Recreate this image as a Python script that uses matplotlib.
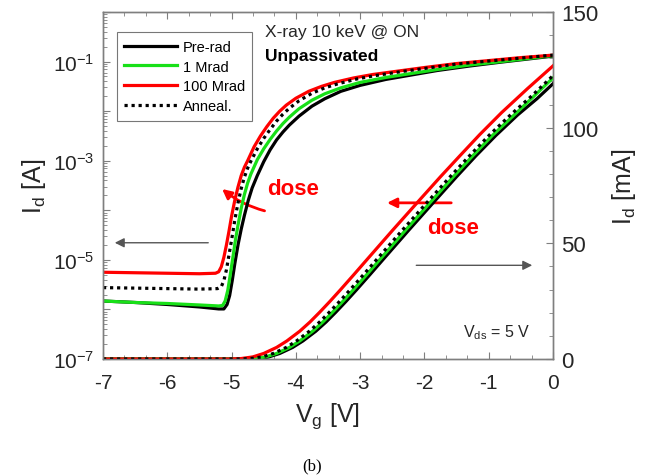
import numpy as np
import matplotlib
matplotlib.use('Agg')
import matplotlib.pyplot as plt
from matplotlib.ticker import MultipleLocator, LogLocator, FixedLocator, NullFormatter
from matplotlib.patches import FancyArrowPatch

plt.rcParams['font.family'] = ['Liberation Sans', 'DejaVu Sans']
plt.rcParams['mathtext.default'] = 'regular'
plt.rcParams['axes.unicode_minus'] = False

# log-scale transfer curves, left axis (log10 of Id in A)
vg_pre_log = [-7, -6.5, -6, -5.5, -5.2, -5.12, -5.07, -5.03, -4.99, -4.95, -4.9, -4.85, -4.8, -4.74, -4.68,
              -4.6, -4.5, -4.4, -4.3, -4.2, -4.1, -3.95, -3.75, -3.55, -3.3, -3.0, -2.6, -2.2, -1.8, -1.3,
              -0.8, -0.4, 0]
id_pre_log = [-5.83, -5.86, -5.9, -5.95, -5.99, -5.99, -5.9, -5.72, -5.42, -5.08, -4.7, -4.38, -4.1, -3.8, -3.55,
              -3.3, -3.02, -2.78, -2.58, -2.42, -2.28, -2.1, -1.9, -1.75, -1.6, -1.48, -1.36, -1.27, -1.18, -1.09,
              -1.01, -0.95, -0.89]

vg_1m_log = [-7, -6.5, -6, -5.5, -5.2, -5.14, -5.1, -5.06, -5.02, -4.98, -4.94, -4.9, -4.85, -4.8, -4.75,
             -4.7, -4.6, -4.5, -4.4, -4.3, -4.2, -4.1, -3.95, -3.75, -3.55, -3.3, -3.0, -2.6, -2.2, -1.8,
             -1.3, -0.8, -0.4, 0]
id_1m_log = [-5.83, -5.86, -5.88, -5.91, -5.93, -5.92, -5.83, -5.62, -5.3, -4.95, -4.6, -4.3, -3.96, -3.68, -3.45,
             -3.27, -2.98, -2.76, -2.57, -2.4, -2.25, -2.12, -1.95, -1.78, -1.65, -1.53, -1.42, -1.32, -1.24, -1.16,
             -1.07, -1.0, -0.94, -0.88]

vg_100m_log = [-7, -6, -5.5, -5.25, -5.2, -5.16, -5.12, -5.08, -5.04, -5.0, -4.95, -4.9, -4.85, -4.8, -4.75,
               -4.65, -4.55, -4.45, -4.35, -4.25, -4.15, -4.0, -3.8, -3.6, -3.4, -3.1, -2.8, -2.4, -2.0, -1.5,
               -1.0, -0.5, 0]
id_100m_log = [-5.25, -5.27, -5.28, -5.27, -5.24, -5.14, -4.95, -4.7, -4.42, -4.12, -3.8, -3.53, -3.3, -3.13, -3.0,
               -2.72, -2.5, -2.31, -2.14, -2.0, -1.88, -1.74, -1.6, -1.5, -1.42, -1.33, -1.26, -1.19, -1.12, -1.04,
               -0.98, -0.92, -0.87]

vg_ann_log = [-7, -6, -5.5, -5.22, -5.16, -5.12, -5.08, -5.04, -5.0, -4.95, -4.9, -4.85, -4.8, -4.75, -4.7,
              -4.6, -4.5, -4.4, -4.3, -4.2, -4.1, -3.95, -3.75, -3.55, -3.35, -3.05, -2.75, -2.35, -1.95, -1.5,
              -1.0, -0.5, 0]
id_ann_log = [-5.56, -5.58, -5.59, -5.58, -5.54, -5.42, -5.2, -4.9, -4.6, -4.2, -3.85, -3.56, -3.33, -3.15, -3.01,
              -2.76, -2.55, -2.37, -2.2, -2.06, -1.94, -1.79, -1.64, -1.53, -1.45, -1.35, -1.28, -1.2, -1.13, -1.05,
              -0.99, -0.93, -0.87]

# linear transfer curves, right axis (mA)
vg_pre_lin = [-7, -4.75, -4.6, -4.42, -4.25, -4.05, -3.89, -3.69, -3.53, -3.38, -3.22, -3.06, -2.85, -2.64,
              -2.25, -1.82, -1.5, -1.2, -0.89, -0.55, -0.25, 0]
id_pre_lin = [0, 0, 0.2, 0.9, 2.4, 5.0, 7.8, 12.0, 16.0, 20.2, 24.9, 29.8, 36.4, 43.1,
              55.5, 68.9, 78.8, 87.8, 96.6, 105.5, 112.5, 119]

vg_1m_lin = [-7, -4.8, -4.65, -4.47, -4.3, -4.1, -3.94, -3.74, -3.58, -3.43, -3.27, -3.11, -2.9, -2.69,
             -2.3, -1.87, -1.55, -1.25, -0.94, -0.6, -0.3, 0]
id_1m_lin = [0, 0, 0.2, 0.9, 2.4, 5.0, 7.8, 12.0, 16.0, 20.2, 24.9, 29.8, 36.4, 43.1,
             55.5, 68.9, 78.8, 87.8, 96.7, 105.6, 113.5, 121.5]

vg_100m_lin = [-7, -5.0, -4.85, -4.67, -4.5, -4.3, -4.14, -3.94, -3.78, -3.63, -3.47, -3.31, -3.1, -2.89,
               -2.5, -2.07, -1.75, -1.45, -1.14, -0.8, -0.4, 0]
id_100m_lin = [0, 0, 0.2, 0.9, 2.4, 5.0, 7.8, 12.0, 16.0, 20.2, 24.9, 29.8, 36.4, 43.1,
               55.5, 68.9, 78.8, 87.8, 97, 106.5, 116.8, 126.7]

vg_ann_lin = [-7, -4.85, -4.7, -4.52, -4.35, -4.15, -3.99, -3.79, -3.63, -3.48, -3.32, -3.16, -2.95, -2.74,
              -2.35, -1.92, -1.6, -1.3, -0.99, -0.65, -0.32, 0]
id_ann_lin = [0, 0, 0.2, 0.9, 2.4, 5.0, 7.8, 12.0, 16.0, 20.2, 24.9, 29.8, 36.4, 43.1,
              55.5, 68.9, 78.8, 87.8, 96.8, 105.8, 114, 122.5]

labels = ['Pre-rad', '1 Mrad', '100 Mrad', 'Anneal.']
green = '#18e018'
spine_col = '#7f7f7f'
txt_col = '#262626'

fig = plt.figure(figsize=(6.49, 4.77), dpi=100)
ax = fig.add_axes([103/649, 1-360/477, 450/649, 347/477])
ax2 = ax.twinx()

lw = 2.3
styles = [dict(color='black', lw=lw),
          dict(color=green, lw=lw),
          dict(color='red', lw=lw),
          dict(color='black', lw=lw, linestyle=(0, (1, 1.2)))]

log_data = [(vg_pre_log, id_pre_log), (vg_1m_log, id_1m_log),
            (vg_100m_log, id_100m_log), (vg_ann_log, id_ann_log)]
lin_data = [(vg_pre_lin, id_pre_lin), (vg_1m_lin, id_1m_lin),
            (vg_100m_lin, id_100m_lin), (vg_ann_lin, id_ann_lin)]

handles = []
for (v, i), st, lab in zip(log_data, styles, labels):
    h, = ax.plot(v, 10 ** np.array(i), label=lab, solid_joinstyle='round', **st)
    handles.append(h)
for (v, i), st in zip(lin_data, styles):
    ax2.plot(v, i, solid_joinstyle='round', **st)

ax.set_yscale('log')
ax.set_xlim(-7, 0)
ax.set_ylim(1e-7, 1e0)
ax2.set_ylim(0, 150)

ax.yaxis.set_major_locator(FixedLocator([10.0 ** e for e in range(-7, 1)]))
ax.yaxis.set_minor_locator(LogLocator(base=10, subs=np.arange(2, 10), numticks=20))
ax.yaxis.set_minor_formatter(NullFormatter())
ax.set_yticklabels(['$10^{%d}$' % e if e % 2 else '' for e in range(-7, 1)])
ax.xaxis.set_major_locator(MultipleLocator(1))
ax.xaxis.set_minor_locator(MultipleLocator(1/3))
ax2.yaxis.set_major_locator(MultipleLocator(50))
ax2.yaxis.set_minor_locator(MultipleLocator(10))

for a in (ax, ax2):
    for s in a.spines.values():
        s.set_color(spine_col)
        s.set_linewidth(1.0)
ax.tick_params(which='both', direction='in', top=True, right=False, colors=spine_col,
               labelcolor=txt_col, labelsize=15)
ax.tick_params(which='major', length=5)
ax.tick_params(which='minor', length=3)
ax2.tick_params(which='both', direction='in', colors=spine_col, labelcolor=txt_col, labelsize=16)
ax2.tick_params(which='major', length=5, pad=6)
ax2.tick_params(which='minor', length=3)
ax.tick_params(axis='x', pad=10)
ax.tick_params(axis='y', pad=6)

ax.set_xlabel('V$_g$ [V]', fontsize=18, color=txt_col, labelpad=6)
ax.set_ylabel('I$_d$ [A]', fontsize=18, color=txt_col, labelpad=4)
ax2.set_ylabel('I$_d$ [mA]', fontsize=18, color=txt_col, labelpad=8)

leg = ax.legend(handles=handles, loc='upper left', bbox_to_anchor=(0.015, 0.962),
                fontsize=10.5, frameon=True, fancybox=False, handlelength=3.6,
                borderpad=0.5, labelspacing=0.4, handletextpad=0.4)
leg.get_frame().set_edgecolor('#555555')
leg.get_frame().set_linewidth(0.8)

ax.text(0.36, 0.945, 'X-ray 10 keV @ ON', transform=ax.transAxes, fontsize=12.5,
        color=txt_col, va='center')
ax.text(0.36, 0.875, 'Unpassivated', transform=ax.transAxes, fontsize=12.5,
        fontweight='bold', color='black', va='center')
ax.text(0.80, 0.08, 'V$_{ds}$ = 5 V', transform=ax.transAxes, fontsize=11.5,
        color=txt_col, va='center')

# direction arrows
ax.annotate('', xy=(0.02, 0.335), xytext=(0.24, 0.335), xycoords='axes fraction',
            arrowprops=dict(arrowstyle='-|>', color='#555555', lw=1.0,
                            mutation_scale=14))
ax.annotate('', xy=(0.96, 0.27), xytext=(0.69, 0.27), xycoords='axes fraction',
            arrowprops=dict(arrowstyle='-|>', color='#555555', lw=1.0,
                            mutation_scale=14))

# dose arrows and labels
arr1 = FancyArrowPatch((0.365, 0.425), (0.26, 0.495), transform=ax.transAxes,
                       connectionstyle='arc3,rad=-0.12', arrowstyle='-|>',
                       mutation_scale=14, color='red', lw=2.0)
ax.add_patch(arr1)
ax.text(0.365, 0.49, 'dose', transform=ax.transAxes, fontsize=16, fontweight='bold',
        color='red', va='center')
ax.annotate('', xy=(0.625, 0.45), xytext=(0.78, 0.45), xycoords='axes fraction',
            arrowprops=dict(arrowstyle='-|>', color='red', lw=2.0, mutation_scale=14))
ax.text(0.72, 0.38, 'dose', transform=ax.transAxes, fontsize=16, fontweight='bold',
        color='red', va='center')

fig.text(312/649, 1-466/477, '(b)', fontsize=12, family=['Liberation Serif'],
         ha='center', va='center', color='black')

fig.savefig('out.png', dpi=100)
